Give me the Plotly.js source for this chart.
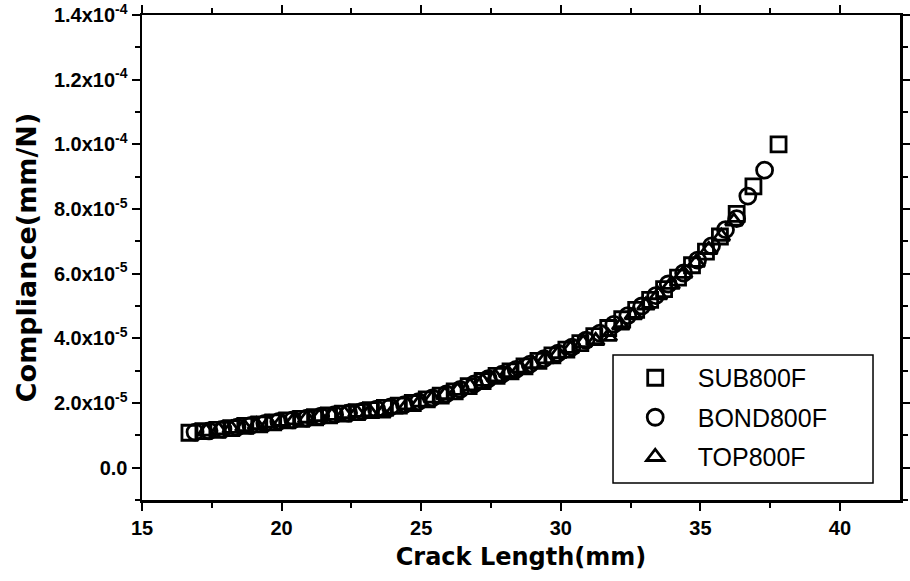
<!DOCTYPE html>
<html>
<head>
<meta charset="utf-8">
<script src="https://cdn.plot.ly/plotly-3.0.1.min.js"></script>
<style>
  html, body { margin: 0; padding: 0; background: #fff; }
  #chart { width: 910px; height: 581px; }
</style>
</head>
<body>
<div id="chart"></div>
<script>
// Crack length (mm) and compliance (in units of 1e-5 mm/N) for each specimen
const sub800fA = [16.7, 17.2, 17.7, 18.2, 18.7, 19.2, 19.7, 20.2, 20.7, 21.2, 21.7, 22.2, 22.7, 23.2,
  23.7, 24.2, 24.7, 25.2, 25.7, 26.2, 26.7, 27.2, 27.7, 28.2, 28.7, 29.2, 29.7, 30.2, 30.7, 31.2,
  31.7, 32.2, 32.7, 33.2, 33.7, 34.2, 34.7, 35.2, 35.7, 36.3, 36.9, 37.8];
const sub800fC = [1.08, 1.13, 1.17, 1.22, 1.29, 1.34, 1.40, 1.46, 1.51, 1.56, 1.62, 1.67, 1.72, 1.78,
  1.85, 1.92, 2.00, 2.11, 2.23, 2.36, 2.52, 2.68, 2.84, 2.98, 3.13, 3.30, 3.47, 3.65, 3.85, 4.07,
  4.32, 4.59, 4.88, 5.19, 5.52, 5.88, 6.26, 6.68, 7.15, 7.85, 8.70, 10.0];

const bond800fA = [16.9, 17.4, 17.9, 18.4, 18.9, 19.4, 19.9, 20.4, 20.9, 21.4, 21.9, 22.4, 22.9, 23.4,
  23.9, 24.4, 24.9, 25.4, 25.9, 26.4, 26.9, 27.4, 27.9, 28.4, 28.9, 29.4, 29.9, 30.4, 30.9, 31.4,
  31.9, 32.4, 32.9, 33.4, 33.85, 34.4, 34.9, 35.4, 35.9, 36.3, 36.7, 37.3];
const bond800fC = [1.10, 1.14, 1.19, 1.25, 1.31, 1.37, 1.43, 1.48, 1.53, 1.59, 1.64, 1.69, 1.75, 1.81,
  1.88, 1.95, 2.04, 2.16, 2.28, 2.42, 2.59, 2.75, 2.89, 3.04, 3.20, 3.37, 3.54, 3.73, 3.94, 4.16,
  4.43, 4.70, 5.00, 5.32, 5.68, 6.02, 6.42, 6.86, 7.36, 7.70, 8.40, 9.20];

const top800fA = [17.3, 17.75, 18.2, 18.65, 19.1, 19.55, 20.0, 20.45, 20.9, 21.35, 21.8, 22.25, 22.7,
  23.15, 23.6, 24.05, 24.5, 24.95, 25.4, 25.85, 26.3, 26.75, 27.2, 27.65, 28.1, 28.55, 29.0, 29.45,
  29.9, 30.35, 30.8, 31.25, 31.7, 32.15, 32.6, 33.05, 33.5, 33.95, 34.4, 34.85, 35.3, 35.75, 36.2];
const top800fC = [1.12, 1.16, 1.21, 1.26, 1.32, 1.37, 1.42, 1.47, 1.52, 1.57, 1.61, 1.66, 1.70,
  1.72, 1.68, 1.80, 1.93, 2.02, 2.14, 2.25, 2.38, 2.52, 2.66, 2.80, 2.93, 3.07, 3.21, 3.36,
  3.52, 3.68, 3.86, 3.92, 4.05, 4.40, 4.72, 5.02, 5.34, 5.66, 6.00, 6.34, 6.74, 7.15, 7.62];

const seriesNames = ['SUB800F', 'BOND800F', 'TOP800F'];

// Axis ticks
const xTickVals = [15, 20, 25, 30, 35, 40];
const yTickVals = [0, 2e-5, 4e-5, 6e-5, 8e-5, 1.0e-4, 1.2e-4, 1.4e-4];
const yTickText = ['0.0', '2.0x10<sup>-5</sup>', '4.0x10<sup>-5</sup>', '6.0x10<sup>-5</sup>',
  '8.0x10<sup>-5</sup>', '1.0x10<sup>-4</sup>', '1.2x10<sup>-4</sup>', '1.4x10<sup>-4</sup>'];

const UNIT = 1e-5;
const toUnits = arr => arr.map(v => v * UNIT);

function markerTrace(name, xs, ys, symbol, size, group) {
  return {
    type: 'scatter',
    mode: 'markers',
    name: name,
    legendgroup: group,
    x: xs,
    y: toUnits(ys),
    marker: {
      symbol: symbol,
      size: size,
      color: '#000',
      line: { color: '#000', width: 2.8 }
    },
    hoverinfo: 'x+y'
  };
}

const data = [
  markerTrace(seriesNames[0], sub800fA, sub800fC, 'square-open', 15, 'g1'),
  markerTrace(seriesNames[1], bond800fA, bond800fC, 'circle-open', 16, 'g2'),
  markerTrace(seriesNames[2], top800fA, top800fC, 'triangle-up-open', 15, 'g3')
];

const FONT = 'Liberation Sans, Arial, sans-serif';
const axisFont = { family: FONT, size: 20, color: '#000', weight: 'bold' };
const titleFont = { family: 'DejaVu Sans, Liberation Sans, sans-serif', size: 24, color: '#000', weight: 'bold' };

const layout = {
  width: 910,
  height: 581,
  margin: { l: 142, r: 10, t: 15, b: 81 },
  paper_bgcolor: '#fff',
  plot_bgcolor: '#fff',
  font: { family: FONT, color: '#000' },
  showlegend: true,
  legend: {
    x: 0.621, y: 0.299,
    xanchor: 'left', yanchor: 'top',
    bgcolor: 'rgba(0,0,0,0)',
    borderwidth: 0,
    traceorder: 'grouped',
    tracegroupgap: 4,
    itemwidth: 75,
    font: { family: FONT, size: 25, color: '#000' }
  },
  // legend frame
  shapes: [{
    type: 'rect', xref: 'paper', yref: 'paper',
    x0: 0.6214, x1: 0.9644, y0: 0.035, y1: 0.299,
    fillcolor: '#fff',
    line: { color: '#000', width: 1.5 },
    layer: 'above'
  }],
  xaxis: {
    range: [15, 42.15],
    tickmode: 'array',
    tickvals: xTickVals,
    ticktext: xTickVals.map(String),
    ticks: 'outside',
    ticklen: 8,
    tickwidth: 2,
    tickcolor: '#000',
    minor: { dtick: 2.5, tick0: 15, ticks: 'outside', ticklen: 5, tickwidth: 2, tickcolor: '#000' },
    showline: true,
    linecolor: '#000',
    linewidth: 2.5,
    mirror: 'ticks',
    showgrid: false,
    zeroline: false,
    tickfont: axisFont,
    title: { text: 'Crack Length(mm)', standoff: 11, font: titleFont }
  },
  yaxis: {
    range: [-1e-5, 1.4e-4],
    tickmode: 'array',
    tickvals: yTickVals,
    ticktext: yTickText,
    ticks: 'outside',
    ticklen: 8,
    tickwidth: 2,
    tickcolor: '#000',
    minor: { dtick: 1e-5, tick0: 0, ticks: 'outside', ticklen: 5, tickwidth: 2, tickcolor: '#000' },
    showline: true,
    linecolor: '#000',
    linewidth: 2.5,
    mirror: 'ticks',
    showgrid: false,
    zeroline: false,
    tickfont: axisFont,
    title: { text: 'Compliance(mm/N)', standoff: 10,
      font: { family: 'DejaVu Sans, Liberation Sans, sans-serif', size: 27, color: '#000', weight: 'bold' } }
  }
};

Plotly.newPlot('chart', data, layout, { displayModeBar: false, staticPlot: true });
</script>
</body>
</html>
